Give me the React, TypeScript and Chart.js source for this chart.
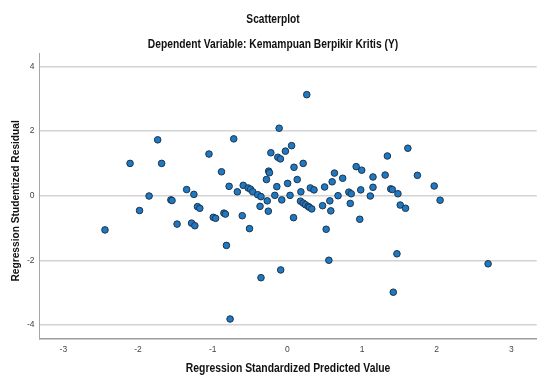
import { useEffect, useRef } from "react";
import { Chart, registerables } from "chart.js";

Chart.register(...registerables);

const chartTitle = "Scatterplot";
const chartSubtitle = "Dependent Variable: Kemampuan Berpikir Kritis (Y)";
const xAxisTitle = "Regression Standardized Predicted Value";
const yAxisTitle = "Regression Studentized Residual";

const xTicks = [-3, -2, -1, 0, 1, 2, 3];
const yTicks = [-4, -2, 0, 2, 4];

const predicted = [
  -2.443, -2.107, -1.98, -1.852, -1.737, -1.684, -1.56, -1.545, -1.477, -1.349,
  -1.283, -1.252, -1.239, -1.204, -1.173, -1.05, -0.992, -0.961, -0.882, -0.85,
  -0.83, -0.816, -0.78, -0.767, -0.718, -0.67, -0.604, -0.591, -0.525, -0.507,
  -0.493, -0.463, -0.397, -0.366, -0.353, -0.353, -0.28, -0.269, -0.255, -0.25,
  -0.24, -0.221, -0.168, -0.141, -0.128, -0.11, -0.093, -0.089, -0.075, -0.026,
  0.004, 0.036, 0.057, 0.083, 0.089, 0.132, 0.176, 0.181, 0.212, 0.212,
  0.242, 0.26, 0.278, 0.295, 0.308, 0.327, 0.357, 0.472, 0.499, 0.52,
  0.556, 0.569, 0.582, 0.6, 0.631, 0.679, 0.741, 0.824, 0.843, 0.856,
  0.922, 0.97, 0.983, 0.996, 1.111, 1.147, 1.147, 1.31, 1.34, 1.385,
  1.406, 1.419, 1.468, 1.481, 1.512, 1.583, 1.614, 1.742, 1.967, 2.046,
  2.689,
];

const residual = [
  -1.06, 1.0, -0.46, -0.01, 1.73, 1.0, -0.13, -0.15, -0.88, 0.19,
  -0.85, 0.04, -0.93, -0.34, -0.39, 1.29, -0.67, -0.7, 0.74, -0.54,
  -0.57, -1.54, 0.29, -3.82, 1.76, 0.12, -0.62, 0.32, 0.24, -1.02,
  0.2, 0.12, 0.03, -0.33, -0.03, -2.54, 0.5, -0.16, -0.48, 0.76,
  0.71, 1.33, 0.01, 0.28, 1.19, 2.09, 1.14, -2.3, -0.13, 1.38,
  0.38, 0.01, 1.55, -0.68, 0.88, 0.5, -0.17, 0.12, 1.0, -0.23,
  -0.28, 3.13, -0.33, -0.36, 0.24, -0.41, 0.18, -0.31, 0.27, -1.04,
  -2.0, -0.16, -0.47, 0.43, 0.7, 0.0, 0.54, 0.11, -0.24, 0.06,
  0.9, -0.73, 0.18, 0.79, -0.01, 0.58, 0.26, 0.64, 1.23, 0.21,
  0.19, -2.99, -1.8, 0.06, -0.29, -0.39, 1.47, 0.63, 0.3, -0.14,
  -2.11,
];

const FONT = '"Liberation Sans", Arial, sans-serif';

// draws text squeezed horizontally, as in the (narrow) reference rendering
function narrowText(ctx: any, text: string, x: number, y: number, sx: number) {
  ctx.save();
  ctx.translate(x, y);
  ctx.scale(sx, 1);
  ctx.fillText(text, 0, 0);
  ctx.restore();
}

const titlesPlugin = {
  id: "spssTitles",
  afterDraw(chart: any) {
    const ctx = chart.ctx;
    const area = chart.chartArea;
    ctx.save();
    ctx.fillStyle = "#111";
    ctx.textAlign = "center";
    ctx.textBaseline = "middle";
    ctx.font = `bold 12px ${FONT}`;
    const cx = chart.width / 2 + 2.5;
    narrowText(ctx, chartTitle, cx, 20, 0.85);
    narrowText(ctx, chartSubtitle, cx, 45, 0.855);
    narrowText(ctx, xAxisTitle, (area.left + area.right) / 2, 369, 0.864);
    // y axis title
    ctx.font = `bold 10.2px ${FONT}`;
    ctx.translate(16, (area.top + area.bottom) / 2 + 5);
    ctx.rotate(-Math.PI / 2);
    ctx.fillText(yAxisTitle, 0, 0);
    ctx.restore();
  },
};

export default function App() {
  const ref = useRef<HTMLCanvasElement | null>(null);

  useEffect(() => {
    if (!ref.current) return;
    const points = predicted.map((x, i) => ({ x, y: residual[i] }));
    const chart = new Chart(ref.current, {
      type: "scatter",
      data: {
        datasets: [
          {
            data: points,
            backgroundColor: "#2079c0",
            borderColor: "#1b3550",
            borderWidth: 1,
            pointRadius: 3.3,
            pointHoverRadius: 3.3,
          },
        ],
      },
      options: {
        responsive: false,
        animation: false,
        events: [],
        layout: { padding: { top: 53, left: 0, right: 0, bottom: 0 } },
        plugins: {
          legend: { display: false },
          tooltip: { enabled: false },
          title: { display: false },
        },
        scales: {
          x: {
            type: "linear",
            min: -3.32,
            max: 3.34,
            afterBuildTicks: (s: any) => {
              s.ticks = xTicks.map((v) => ({ value: v }));
            },
            afterFit: (s: any) => {
              s.height = 40.3;
            },
            grid: { display: false, drawTicks: false },
            border: { display: true, color: "#9c9c9c", width: 1.5 },
            ticks: {
              font: { size: 8.5, family: FONT },
              color: "#444",
              padding: 6,
              maxRotation: 0,
              autoSkip: false,
            },
            title: { display: false },
          },
          y: {
            type: "linear",
            min: -4.43,
            max: 4.42,
            afterBuildTicks: (s: any) => {
              s.ticks = yTicks.map((v) => ({ value: v }));
            },
            afterFit: (s: any) => {
              s.width = 39.5;
            },
            grid: { color: "#d3d3d3", lineWidth: 1.5, drawTicks: false },
            border: { display: true, color: "#a6a6a6", width: 1 },
            ticks: {
              font: { size: 8.5, family: FONT },
              color: "#444",
              padding: 5,
            },
            title: { display: false },
          },
        },
      },
      plugins: [titlesPlugin],
    } as any);
    return () => chart.destroy();
  }, []);

  return (
    <div style={{ position: "fixed", left: 0, top: 0, width: 541, height: 379, background: "#fff" }}>
      <canvas ref={ref} width={541} height={379} style={{ width: 541, height: 379 }} />
    </div>
  );
}
